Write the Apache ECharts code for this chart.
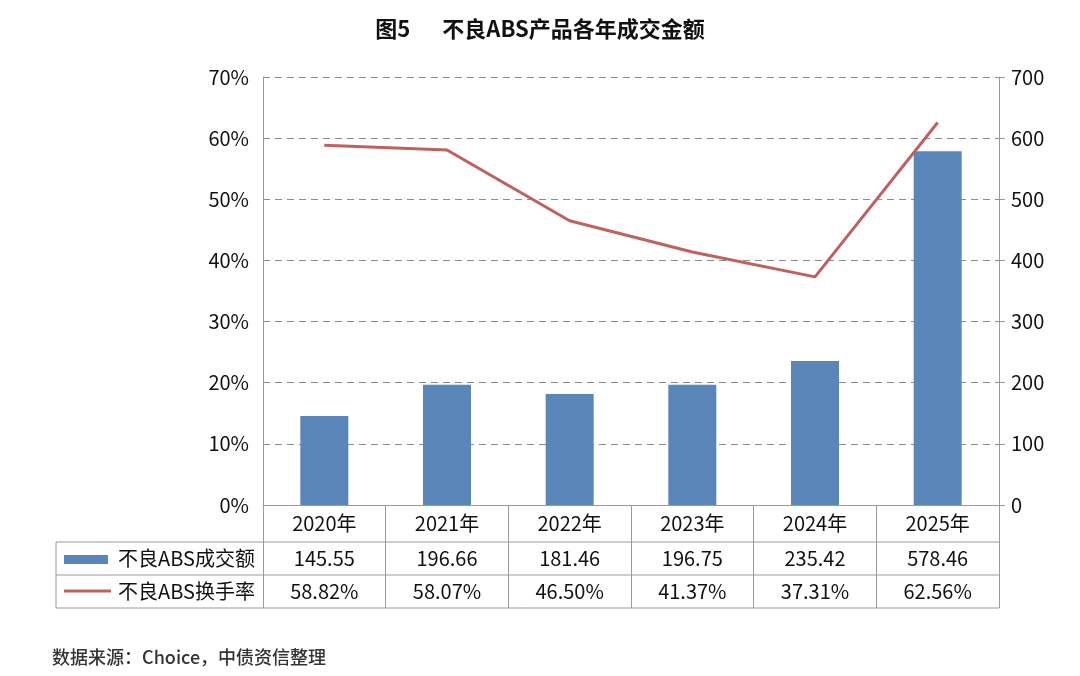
<!DOCTYPE html>
<html><head><meta charset="utf-8">
<script src="https://cdn.jsdelivr.net/npm/echarts@6/dist/echarts.min.js"></script>
<style>html,body{margin:0;padding:0;background:#fff}#c{width:1080px;height:676px}</style>
</head><body><div id="c"></div>
<script>
const categories = ['2020年','2021年','2022年','2023年','2024年','2025年'];
const volumeValues = [145.55, 196.66, 181.46, 196.75, 235.42, 578.46];
const turnoverRates = [58.82, 58.07, 46.50, 41.37, 37.31, 62.56];
const seriesNames = ['不良ABS成交额', '不良ABS换手率'];
const titleText = '图5\u3000  不良ABS产品各年成交金额';
const sourceText = '数据来源：Choice，中债资信整理';

const FONT = '"Noto Sans CJK SC", "Noto Sans", sans-serif';
const BAR = '#5B86BA';
const LINE = '#BD625F';
const GRID = '#9a9a9a';
const G = {left: 263, right: 81, top: 77, bottom: 171};
const tblLeft = 56, tblRight = 1080 - G.right;
const rowY = [505, 542, 575, 608];

const chart = echarts.init(document.getElementById('c'));
chart.setOption({
  animation: false,
  backgroundColor: '#fff',
  textStyle: {fontFamily: FONT},
  title: {
    text: titleText, left: 'center', top: 13,
    textStyle: {fontFamily: FONT, fontSize: 22, fontWeight: 'bold', color: '#111'}
  },
  grid: G,
  xAxis: {
    type: 'category', data: categories,
    axisLine: {show: true, lineStyle: {color: GRID, width: 1}},
    axisTick: {show: true, length: rowY[3] - rowY[0], lineStyle: {color: GRID, width: 1}, interval: 0},
    axisLabel: {
      interval: 0, margin: 0, color: '#111', fontFamily: FONT,
      formatter: (v, i) => `{y|${v}}\n{v|${volumeValues[i].toFixed(2)}}\n{r|${turnoverRates[i].toFixed(2)}%}`,
      rich: {
        y: {fontSize: 20, lineHeight: rowY[1] - rowY[0], color: '#111', fontFamily: FONT},
        v: {fontSize: 20, lineHeight: rowY[2] - rowY[1], color: '#111', fontFamily: FONT},
        r: {fontSize: 20, lineHeight: rowY[3] - rowY[2], color: '#111', fontFamily: FONT}
      }
    }
  },
  yAxis: [{
    type: 'value', min: 0, max: 70, interval: 10,
    axisLine: {show: true, lineStyle: {color: GRID}},
    axisTick: {show: false},
    axisLabel: {formatter: '{value}%', fontSize: 20, color: '#111', margin: 14, fontFamily: FONT},
    splitLine: {show: true, lineStyle: {color: '#8c8c8c', type: [7, 5], width: 1}}
  }, {
    type: 'value', min: 0, max: 700, interval: 100,
    axisLine: {show: true, lineStyle: {color: GRID}},
    axisTick: {show: true, length: 6, lineStyle: {color: GRID}},
    axisLabel: {fontSize: 20, color: '#111', margin: 12, fontFamily: FONT},
    splitLine: {show: false}
  }],
  series: [{
    name: seriesNames[0], type: 'bar', yAxisIndex: 1, data: volumeValues,
    barWidth: 48, itemStyle: {color: BAR}, z: 2
  }, {
    name: seriesNames[1], type: 'line', yAxisIndex: 0, data: turnoverRates,
    symbol: 'none', lineStyle: {color: LINE, width: 3}, itemStyle: {color: LINE}, z: 3
  }],
  graphic: [
    {type: 'line', shape: {x1: tblLeft, y1: rowY[1], x2: tblRight, y2: rowY[1]}, style: {stroke: GRID, lineWidth: 1}},
    {type: 'line', shape: {x1: tblLeft, y1: rowY[2], x2: tblRight, y2: rowY[2]}, style: {stroke: GRID, lineWidth: 1}},
    {type: 'line', shape: {x1: tblLeft, y1: rowY[3], x2: tblRight, y2: rowY[3]}, style: {stroke: GRID, lineWidth: 1}},
    {type: 'line', shape: {x1: tblLeft, y1: rowY[1], x2: tblLeft, y2: rowY[3]}, style: {stroke: GRID, lineWidth: 1}},
    {type: 'rect', shape: {x: 64, y: 555, width: 44, height: 9}, style: {fill: BAR}},
    {type: 'line', shape: {x1: 64, y1: 591, x2: 111, y2: 591}, style: {stroke: LINE, lineWidth: 3}},
    {type: 'text', x: 118, y: (rowY[1] + rowY[2]) / 2, style: {text: seriesNames[0], font: '20px ' + FONT, fill: '#111', verticalAlign: 'middle'}},
    {type: 'text', x: 118, y: (rowY[2] + rowY[3]) / 2, style: {text: seriesNames[1], font: '20px ' + FONT, fill: '#111', verticalAlign: 'middle'}},
    {type: 'text', x: 52, y: 657, style: {text: sourceText, font: '500 18px ' + FONT, fill: '#333', verticalAlign: 'middle'}}
  ]
});
</script></body></html>
